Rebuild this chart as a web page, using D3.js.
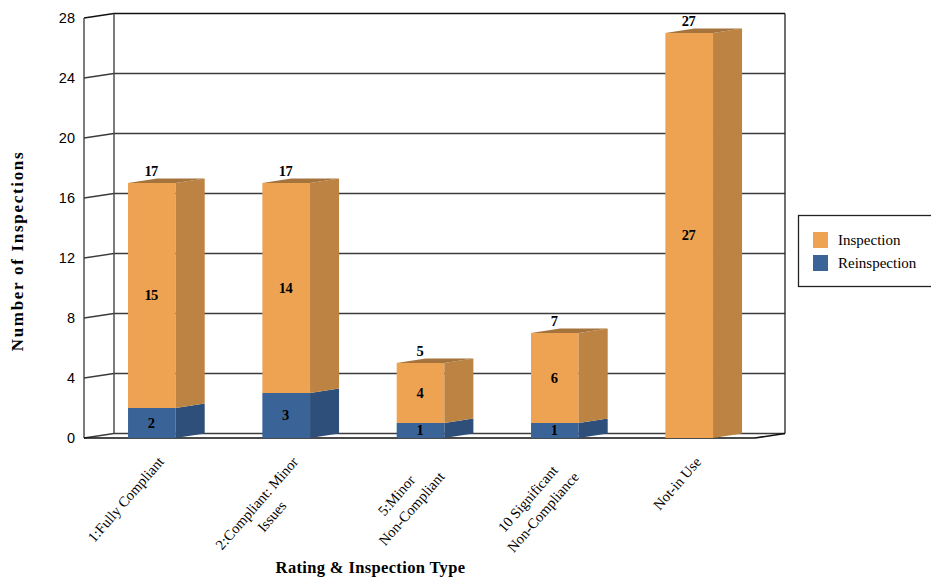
<!DOCTYPE html>
<html>
<head>
<meta charset="utf-8">
<script src="https://cdn.jsdelivr.net/npm/d3@7/dist/d3.min.js"></script>
<style>
  html, body { margin: 0; padding: 0; background: #fff; }
  svg { display: block; }
  text { font-family: "Liberation Serif", serif; fill: #000; }
</style>
</head>
<body>
<svg id="chart" width="931" height="578"></svg>
<script>
// Inspection counts by rating, stacked from the base upward
const categories = [
  "1:Fully Compliant",
  "2:Compliant: Minor Issues",
  "5:Minor Non-Compliant",
  "10 Significant Non-Compliance",
  "Not-in Use"
];
const categoryLines = [
  ["1:Fully Compliant"],
  ["2:Compliant: Minor", "Issues"],
  ["5:Minor", "Non-Compliant"],
  ["10 Significant", "Non-Compliance"],
  ["Not-in Use"]
];
const reinspection = [2, 3, 1, 1, 0];
const inspection = [15, 14, 4, 6, 27];
const yTicks = [0, 4, 8, 12, 16, 20, 24, 28];
const seriesNames = ["Inspection", "Reinspection"];

const svg = d3.select("#chart");

// Front plane of the 3D box; the back plane is offset by the depth vector
const depthX = 30, depthY = -4.5;
const barDepthX = 29, barDepthY = -4.5;
const x = d3.scaleBand().domain(categories).range([84, 755])
  .paddingInner(0.645).paddingOuter(0.32).align(0.512);
const y = d3.scaleLinear().domain([0, 28]).range([438, 18]);

const colors = {
  Inspection: { front: "#eea353", side: "#bd8343", top: "#a5743c" },
  Reinspection: { front: "#3a6498", side: "#2e4f7a", top: "#26426a" }
};

const poly = pts => pts.map(p => p.join(",")).join(" ");
const [left, right] = x.range();
const gridColor = "#3c3c3c";
const labelNudge = -0.8;

// Walls and gridlines
const walls = svg.append("g").attr("fill", "none");
yTicks.forEach(t => {
  const yy = y(t);
  walls.append("polyline")
    .attr("points", poly([[left, yy], [left + depthX, yy + depthY], [right + depthX, yy + depthY]]))
    .attr("stroke", t === 28 ? "#111" : gridColor)
    .attr("stroke-width", t === 28 ? 1.4 : 1.3);
});
walls.append("line").attr("x1", left).attr("x2", left).attr("y1", y(28)).attr("y2", y(0))
  .attr("stroke", "#444").attr("stroke-width", 1.4);
walls.append("line").attr("x1", left + depthX).attr("x2", left + depthX)
  .attr("y1", y(28) + depthY).attr("y2", y(0) + depthY)
  .attr("stroke", "#444").attr("stroke-width", 1.4);
walls.append("line").attr("x1", right + depthX).attr("x2", right + depthX)
  .attr("y1", y(28) + depthY).attr("y2", y(0) + depthY)
  .attr("stroke", "#222").attr("stroke-width", 1.3);
walls.append("polyline")
  .attr("points", poly([[left, y(0)], [right, y(0)], [right + depthX, y(0) + depthY]]))
  .attr("stroke", "#111").attr("stroke-width", 1.6);

// Stacked bars with their side and top faces
const bars = svg.append("g");
const stackRows = categories.map((c, i) => ({ category: c, Reinspection: reinspection[i], Inspection: inspection[i] }));
const stacked = d3.stack().keys(["Reinspection", "Inspection"])(stackRows);

stacked.forEach(layer => {
  const c = colors[layer.key];
  layer.forEach(d => {
    if (d[1] === d[0]) return;
    const x0 = x(d.data.category), x1 = x0 + x.bandwidth();
    const yb = y(d[0]), yt = y(d[1]);
    bars.append("rect").attr("x", x0).attr("y", yt).attr("width", x1 - x0).attr("height", yb - yt).attr("fill", c.front);
    bars.append("polygon")
      .attr("points", poly([[x1, yb], [x1 + barDepthX, yb + barDepthY], [x1 + barDepthX, yt + barDepthY], [x1, yt]]))
      .attr("fill", c.side);
    if (layer.key === "Inspection") {
      bars.append("polygon")
        .attr("points", poly([[x0, yt], [x0 + barDepthX, yt + barDepthY], [x1 + barDepthX, yt + barDepthY], [x1, yt]]))
        .attr("fill", c.top);
    }
  });
});

// Value labels inside each segment and totals above each bar
const labels = svg.append("g").attr("font-size", 14.5).attr("font-weight", "bold")
  .attr("letter-spacing", -0.7).attr("text-anchor", "middle");
stacked.forEach(layer => {
  layer.forEach(d => {
    if (d[1] === d[0]) return;
    labels.append("text")
      .attr("x", x(d.data.category) + x.bandwidth() / 2 + labelNudge)
      .attr("y", (y(d[0]) + y(d[1])) / 2 - 0.5)
      .attr("dy", "0.35em")
      .text(d[1] - d[0]);
  });
});
categories.forEach((c, i) => {
  const total = reinspection[i] + inspection[i];
  labels.append("text")
    .attr("x", x(c) + x.bandwidth() / 2 + labelNudge)
    .attr("y", y(total) - 12)
    .attr("dy", "0.35em")
    .text(total);
});

// Value axis labels
const yAxis = svg.append("g")
  .attr("transform", `translate(${left},0)`)
  .call(d3.axisLeft(y).tickValues(yTicks).tickSize(0).tickPadding(9));
yAxis.select(".domain").remove();
yAxis.selectAll("text")
  .style("font-family", '"Liberation Sans", sans-serif')
  .attr("font-size", 14.5)
  .attr("fill", "#111");

// Rotated category labels, with shorter lines centred on the longest one
const angle = -49;
categoryLines.forEach((lines, i) => {
  const cx = x(categories[i]) + x.bandwidth() / 2;
  const g = svg.append("g").attr("font-size", 14.6);
  const nodes = lines.map(l => g.append("text").attr("text-anchor", "middle").text(l));
  const widths = nodes.map(n => n.node().getComputedTextLength());
  const longest = d3.max(widths);
  const idx = widths.indexOf(longest);
  g.attr("transform", `translate(${cx + 9 + 12 * idx},${459 + 15 * idx}) rotate(${angle})`);
  nodes.forEach((n, j) => n.attr("x", -longest / 2).attr("y", (j - idx) * 20 + 5));
});

// Axis titles
svg.append("text")
  .attr("transform", "translate(23,251) rotate(-90)")
  .attr("text-anchor", "middle")
  .attr("font-size", 17).attr("font-weight", "bold").attr("letter-spacing", 1.7)
  .text("Number of Inspections");
svg.append("text")
  .attr("x", 370.5).attr("y", 573)
  .attr("text-anchor", "middle")
  .attr("font-size", 16.5).attr("font-weight", "bold").attr("letter-spacing", 0.35)
  .text("Rating & Inspection Type");

// Legend box, running to the edge of the canvas
const legend = svg.append("g");
legend.append("rect").attr("x", 798.5).attr("y", 215.5).attr("width", 140).attr("height", 71)
  .attr("fill", "#fff").attr("stroke", "#222").attr("stroke-width", 1.3);
seriesNames.forEach((name, i) => {
  legend.append("rect").attr("x", 813).attr("y", 232 + i * 23).attr("width", 15).attr("height", 16)
    .attr("fill", colors[name].front);
  legend.append("text").attr("x", 838).attr("y", 240 + i * 23).attr("dy", "0.35em")
    .attr("font-size", 15).text(name);
});
</script>
</body>
</html>
